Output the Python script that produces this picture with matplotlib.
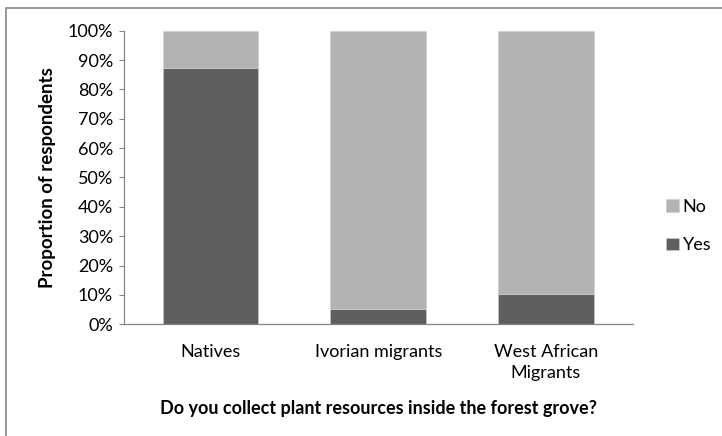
import numpy as np
import matplotlib.pyplot as plt
from matplotlib.patches import Rectangle

plt.rcParams['font.family'] = ['Lato', 'DejaVu Sans']

# Данные
categories = ['Natives', 'Ivorian migrants', 'West African\nMigrants']
yes_share = [87.4, 5.3, 10.4]
no_share = [100 - v for v in yes_share]
yticks = np.arange(0, 101, 10)

fs = 13

fig = plt.figure(figsize=(7.22, 4.36), dpi=100)
ax = fig.add_axes([123.5 / 722, 1 - 324.3 / 436, (633 - 123.5) / 722, (324.3 - 30.7) / 436])

x = np.arange(len(categories))
ax.bar(x, yes_share, width=0.57, color='#5f5f5f', edgecolor='#cfcfcf', linewidth=0.4, label='Yes')
ax.bar(x, no_share, width=0.57, bottom=yes_share, color='#b3b3b3', edgecolor='#cfcfcf', linewidth=0.4, label='No')

ax.set_xlim(-0.52, 2.52)
ax.set_ylim(0, 100)
ax.set_yticks(yticks)
ax.set_yticklabels([f'{v}%' for v in yticks], fontsize=fs)
ax.set_xticks(x)
ax.set_xticklabels(categories, fontsize=fs, linespacing=1.4)
ax.tick_params(axis='x', length=0, pad=14)
ax.tick_params(axis='y', length=3.5, width=0.8, color='#868686', pad=4)

for side in ['top', 'right']:
    ax.spines[side].set_visible(False)
for side in ['left', 'bottom']:
    ax.spines[side].set_color('#868686')
    ax.spines[side].set_linewidth(0.9)

ax.set_ylabel('Proportion of respondents', fontsize=13.5, fontweight='bold', labelpad=8)
ax.set_xlabel('Do you collect plant resources inside the forest grove?', fontsize=fs,
              fontweight='bold', labelpad=14)

handles, labels = ax.get_legend_handles_labels()
fig.legend(handles[::-1], labels[::-1], loc='center left', bbox_to_anchor=(650 / 722, 1 - 226 / 436),
           frameon=False, fontsize=fs, handlelength=0.7, handleheight=0.7,
           handletextpad=0.2, labelspacing=1.25)

# рамка вокруг графика
fig.patches.append(Rectangle((5.5 / 722, -0.1), 1.2, 1 - 8.5 / 436 + 0.1, transform=fig.transFigure,
                             fill=False, edgecolor='#888888', linewidth=1.2))

fig.savefig('out.png', dpi=100, facecolor='white')
